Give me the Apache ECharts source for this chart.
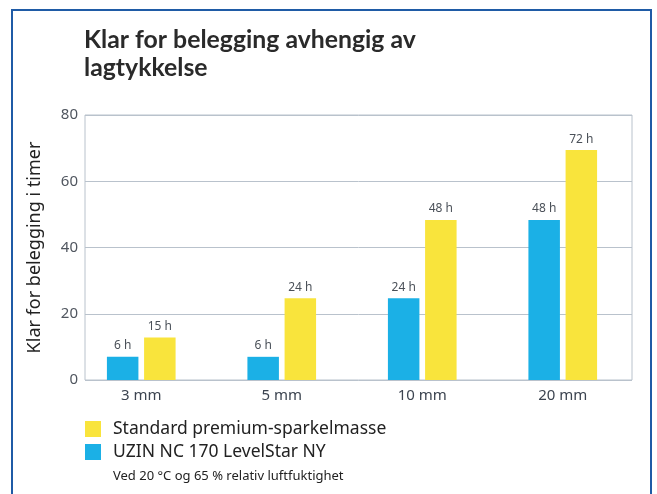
<!DOCTYPE html>
<html>
<head>
<meta charset="utf-8">
<script src="https://cdn.jsdelivr.net/npm/echarts@6/dist/echarts.min.js"></script>
<style>
  html, body { margin: 0; padding: 0; background: #fff; }
  #chart { width: 657px; height: 494px; }
</style>
</head>
<body>
<div id="chart"></div>
<script>
var categories = ["3 mm", "5 mm", "10 mm", "20 mm"];
var uzinValues = [7, 7, 24.7, 48.3];
var standardValues = [12.8, 24.7, 48.3, 69.4];
var uzinLabels = ["6 h", "6 h", "24 h", "48 h"];
var standardLabels = ["15 h", "24 h", "48 h", "72 h"];
var yTicks = { min: 0, max: 80, interval: 20 };

var uzinName = "UZIN NC 170 LevelStar NY",
    standardName = "Standard premium-sparkelmasse",
    font = "Noto Sans",
    gridColor = "#b9c2cc";

function barLabel(texts) {
  return {
    show: true,
    position: "top",
    distance: 5,
    fontFamily: font,
    fontSize: 12,
    color: "#4a5058",
    formatter: function(p) { return texts[p.dataIndex]; }
  };
}

var chart = echarts.init(document.getElementById("chart"));
var option = {
  animation: false,
  backgroundColor: "#fff",
  title: [
    {
      text: "Klar for belegging avhengig av\nlagtykkelse",
      left: 79,
      top: 21,
      textStyle: { fontFamily: "Lato", fontSize: 24.8, fontWeight: "bold", color: "#2a2a2a", lineHeight: 28 }
    },
    {
      text: "Ved 20 °C og 65 % relativ luftfuktighet",
      left: 108,
      top: 465,
      textStyle: { fontFamily: font, fontSize: 13, fontWeight: "normal", color: "#222" }
    }
  ],
  legend: {
    orient: "vertical",
    left: 80,
    top: 415,
    itemWidth: 16,
    itemHeight: 16,
    itemGap: 5,
    icon: "rect",
    data: [standardName, uzinName],
    textStyle: { fontFamily: font, fontSize: 17.5, color: "#222", padding: [0, 0, 0, 7] }
  },
  graphic: [{
    type: "rect",
    shape: { x: 12, y: 10, width: 639, height: 500 },
    style: { fill: "none", stroke: "#1f5ba6", lineWidth: 2 },
    silent: true
  }],
  grid: [
    { left: 85, right: 25, top: 115, bottom: 114, show: true, borderColor: gridColor, borderWidth: 1 },
    { left: 71, right: 24, top: 115, bottom: 114 }
  ],
  xAxis: [
    { gridIndex: 0, type: "value", min: 0, max: 1, show: false },
    {
      gridIndex: 1,
      type: "category",
      data: categories,
      axisLine: { show: false },
      axisTick: { show: false },
      axisLabel: { margin: 8, fontFamily: font, fontSize: 15, color: "#3c4450" }
    }
  ],
  yAxis: [
    {
      gridIndex: 0,
      type: "value",
      min: yTicks.min,
      max: yTicks.max,
      interval: yTicks.interval,
      name: "Klar for belegging i timer",
      nameLocation: "middle",
      nameGap: 41,
      nameTextStyle: { fontFamily: font, fontSize: 18, color: "#222" },
      axisLine: { show: false },
      axisTick: { show: false },
      axisLabel: { margin: 7, fontFamily: font, fontSize: 15, color: "#50565f" },
      splitLine: { lineStyle: { color: gridColor, width: 1 } }
    },
    { gridIndex: 1, type: "value", min: yTicks.min, max: yTicks.max, show: false }
  ],
  series: [
    {
      name: uzinName,
      type: "bar",
      xAxisIndex: 1,
      yAxisIndex: 1,
      data: uzinValues,
      barWidth: 31.5,
      barGap: "18%",
      itemStyle: { color: "#1bb0e6" },
      label: barLabel(uzinLabels)
    },
    {
      name: standardName,
      type: "bar",
      xAxisIndex: 1,
      yAxisIndex: 1,
      data: standardValues,
      barWidth: 31.5,
      itemStyle: { color: "#f9e43c" },
      label: barLabel(standardLabels)
    }
  ]
};
chart.setOption(option);
</script>
</body>
</html>
